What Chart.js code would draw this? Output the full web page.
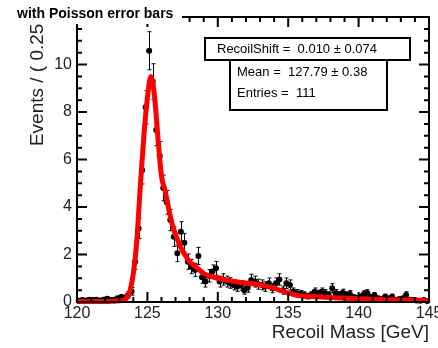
<!DOCTYPE html>
<html>
<head>
<meta charset="utf-8">
<script src="https://cdn.jsdelivr.net/npm/chart.js@4.4.0/dist/chart.umd.min.js"></script>
<style>
  html, body { margin: 0; padding: 0; background: #fff; }
</style>
</head>
<body>
<canvas id="recoilChart" width="438" height="348"></canvas>
<script>
// bin centres (0.25 GeV bins) and the weighted event counts
const binCenters = [
  120.125, 120.375, 120.625, 120.875, 121.125, 121.375, 121.625, 121.875, 122.125, 122.375,
  122.625, 122.875, 123.125, 123.375, 123.625, 123.875, 124.125, 124.375, 124.625, 124.875,
  125.125, 125.375, 125.625, 125.875, 126.125, 126.375, 126.625, 126.875, 127.125, 127.375,
  127.625, 127.875, 128.125, 128.375, 128.625, 128.875, 129.125, 129.375, 129.625, 129.875,
  130.125, 130.375, 130.625, 130.875, 131.125, 131.375, 131.625, 131.875, 132.125, 132.375,
  132.625, 132.875, 133.125, 133.375, 133.625, 133.875, 134.125, 134.375, 134.625, 134.875,
  135.125, 135.375, 135.625, 135.875, 136.125, 136.375, 136.625, 136.875, 137.125, 137.375,
  137.625, 137.875, 138.125, 138.375, 138.625, 138.875, 139.125, 139.375, 139.625, 139.875,
  140.125, 140.375, 140.625, 140.875, 141.125, 141.375, 141.625, 141.875, 142.125, 142.375,
  142.625, 142.875, 143.125, 143.375, 143.625, 143.875, 144.125, 144.375, 144.625, 144.875
];
const eventsPerBin = [
  0.05, 0.08, 0.06, 0.10, 0.08, 0.10, 0.06, 0.10, 0.14, 0.08,
  0.10, 0.15, 0.20, 0.18, 0.30, 0.45, 1.70, 3.10, 5.55, 8.20,
  10.58, 9.28, 7.24, 6.15, 4.80, 4.20, 3.45, 2.75, 2.05, 2.96,
  2.50, 1.70, 1.49, 1.35, 1.94, 1.04, 0.86, 1.10, 1.28, 1.42,
  0.86, 0.95, 0.86, 0.80, 0.72, 0.65, 0.70, 0.50, 0.60, 0.93,
  0.86, 0.75, 0.72, 0.65, 0.79, 0.58, 0.79, 0.95, 0.50, 0.79,
  0.72, 0.43, 0.37, 0.35, 0.30, 0.25, 0.30, 0.43, 0.35, 0.43,
  0.37, 0.30, 0.58, 0.37, 0.30, 0.39, 0.30, 0.34, 0.20, 0.18,
  0.22, 0.34, 0.37, 0.20, 0.27, 0.15, 0.12, 0.22, 0.15, 0.22,
  0.10, 0.12, 0.15, 0.30, 0.10, 0.08, 0.06, 0.05, 0.08, 0.04
];
const eventErrors = [
  0.06, 0.07, 0.06, 0.08, 0.07, 0.08, 0.06, 0.08, 0.09, 0.07,
  0.08, 0.10, 0.11, 0.10, 0.13, 0.16, 0.32, 0.43, 0.58, 0.70,
  0.80, 0.75, 0.66, 0.61, 0.54, 0.50, 0.45, 0.41, 0.35, 0.42,
  0.39, 0.32, 0.30, 0.28, 0.36, 0.25, 0.23, 0.26, 0.28, 0.29,
  0.23, 0.24, 0.23, 0.22, 0.21, 0.20, 0.20, 0.17, 0.19, 0.24,
  0.23, 0.21, 0.21, 0.20, 0.22, 0.19, 0.22, 0.24, 0.17, 0.22,
  0.21, 0.16, 0.15, 0.14, 0.13, 0.12, 0.13, 0.16, 0.14, 0.16,
  0.15, 0.13, 0.19, 0.15, 0.13, 0.15, 0.13, 0.14, 0.11, 0.10,
  0.11, 0.14, 0.15, 0.11, 0.13, 0.10, 0.09, 0.11, 0.10, 0.11,
  0.08, 0.09, 0.10, 0.13, 0.08, 0.07, 0.06, 0.06, 0.07, 0.05
];

// fitted shape (red curve)
const fitMass = [120, 121, 122, 122.5, 123, 123.25, 123.5, 123.75, 124, 124.25, 124.5, 124.75,
  125, 125.25, 125.5, 125.75, 126, 126.25, 126.5, 126.75, 127, 127.5, 128, 128.5, 129, 129.5,
  130, 131, 132, 133, 133.5, 134, 134.5, 135, 135.5, 136, 137, 138, 139, 140, 141, 142, 143, 144, 145];
const fitValues = [0.02, 0.02, 0.02, 0.03, 0.05, 0.08, 0.15, 0.45, 1.2, 2.6, 4.9, 7.0,
  8.6, 9.5, 8.7, 6.9, 5.3, 4.7, 3.95, 3.3, 2.85, 2.15, 1.7, 1.45, 1.2, 1.08,
  1.0, 0.88, 0.8, 0.72, 0.66, 0.58, 0.48, 0.38, 0.3, 0.25, 0.22, 0.19, 0.16, 0.14, 0.12, 0.1, 0.08, 0.07, 0.06];

const xTickLabels = [120, 125, 130, 135, 140, 145];
const yTickLabels = [0, 2, 4, 6, 8, 10];
const statLines = ['RecoilShift =  0.010 \u00b1 0.074', 'Mean =  127.79 \u00b1 0.38', 'Entries =  111'];

const FONT = '"Liberation Sans", Arial, Helvetica, sans-serif';

// ROOT-like frame: inward ticks on all four sides, labels, titles, stat boxes
const rootFrame = {
    id: 'rootFrame',
    beforeDatasetsDraw(chart) {
        const ctx = chart.ctx, xs = chart.scales.x, ys = chart.scales.y;
        ctx.save();
        ctx.strokeStyle = '#000';
        ctx.lineWidth = 1;
        binCenters.forEach((m, i) => {
            const px = Math.round(xs.getPixelForValue(m)) + 0.5;
            const top = ys.getPixelForValue(eventsPerBin[i] + eventErrors[i]);
            const bot = ys.getPixelForValue(Math.max(0, eventsPerBin[i] - eventErrors[i]));
            ctx.beginPath();
            ctx.moveTo(px, top); ctx.lineTo(px, bot);
            ctx.moveTo(px - 2, top); ctx.lineTo(px + 2, top);
            ctx.moveTo(px - 2, bot); ctx.lineTo(px + 2, bot);
            ctx.stroke();
        });
        ctx.restore();
    },
    afterDraw(chart) {
        const ctx = chart.ctx, xs = chart.scales.x, ys = chart.scales.y;
        const a = chart.chartArea;
        ctx.save();
        ctx.strokeStyle = '#000';
        ctx.fillStyle = '#000';

        // ticks
        ctx.lineWidth = 2;
        ctx.beginPath();
        for (let v = 120; v <= 145; v += 1) {
            const px = xs.getPixelForValue(v);
            const len = v % 5 === 0 ? 10 : 5;
            ctx.moveTo(px, a.bottom); ctx.lineTo(px, a.bottom - len);
            ctx.moveTo(px, a.top); ctx.lineTo(px, a.top + len);
        }
        for (let v = 0; v <= 12; v += 0.5) {
            const py = ys.getPixelForValue(v);
            const len = v % 2 === 0 ? 10 : 5;
            ctx.moveTo(a.left, py); ctx.lineTo(a.left + len, py);
            ctx.moveTo(a.right, py); ctx.lineTo(a.right - len, py);
        }
        ctx.stroke();
        ctx.strokeRect(a.left, a.top, a.right - a.left, a.bottom - a.top);

        // tick labels
        ctx.font = '16px ' + FONT;
        ctx.fillStyle = '#222';
        ctx.textAlign = 'center';
        ctx.textBaseline = 'alphabetic';
        xTickLabels.forEach(v => ctx.fillText(String(v), xs.getPixelForValue(v), a.bottom + 16));
        ctx.textAlign = 'right';
        ctx.textBaseline = 'middle';
        yTickLabels.forEach(v => ctx.fillText(String(v), a.left - 5, ys.getPixelForValue(v)));

        // axis titles
        ctx.font = '19px ' + FONT;
        ctx.textAlign = 'right';
        ctx.textBaseline = 'alphabetic';
        ctx.fillText('Recoil Mass [GeV]', a.right, 338);

        ctx.save();
        ctx.translate(43, 12);
        ctx.rotate(-Math.PI / 2);
        ctx.textAlign = 'right';
        ctx.fillText('Events / ( 0.25 )', 0, 0);
        ctx.restore();

        // plot title on white pave
        ctx.fillStyle = '#fff';
        ctx.fillRect(0, 0, 182, 24);
        ctx.fillStyle = '#000';
        ctx.font = 'bold 14px ' + FONT;
        ctx.textAlign = 'left';
        ctx.fillText('with Poisson error bars', 17, 18);

        // stat boxes
        ctx.lineWidth = 2;
        ctx.fillStyle = '#fff';
        ctx.fillRect(230, 60, 157, 50);
        ctx.strokeRect(230, 60, 157, 50);
        ctx.fillRect(205, 38, 205, 22);
        ctx.strokeRect(205, 38, 205, 22);
        ctx.fillStyle = '#000';
        ctx.font = '13px ' + FONT;
        ctx.fillText(statLines[0], 217, 53);
        ctx.fillText(statLines[1], 237, 76);
        ctx.fillText(statLines[2], 237, 97);
        ctx.restore();
    }
};

document.addEventListener('DOMContentLoaded', function () {
    const ctx = document.getElementById('recoilChart').getContext('2d');
    new Chart(ctx, {
        type: 'scatter',
        data: {
            datasets: [{
                label: 'fit',
                data: fitMass.map((m, i) => ({ x: m, y: fitValues[i] })),
                showLine: true,
                borderColor: '#ff0000',
                borderWidth: 5,
                pointRadius: 0,
                cubicInterpolationMode: 'monotone',
                clip: { left: 0, top: 0, right: 0, bottom: 4 }
            }, {
                label: 'data',
                data: binCenters.map((m, i) => ({ x: m, y: eventsPerBin[i] })),
                backgroundColor: '#000',
                borderWidth: 0,
                pointRadius: 3,
                clip: 6
            }]
        },
        plugins: [rootFrame],
        options: {
            responsive: false,
            animation: false,
            events: [],
            layout: {
                padding: { left: 77, right: 9, top: 17, bottom: 46 }
            },
            scales: {
                x: { type: 'linear', min: 120, max: 145, display: false },
                y: { type: 'linear', min: 0, max: 12, display: false }
            },
            plugins: {
                legend: { display: false },
                tooltip: { enabled: false }
            }
        }
    });
});
</script>
</body>
</html>
